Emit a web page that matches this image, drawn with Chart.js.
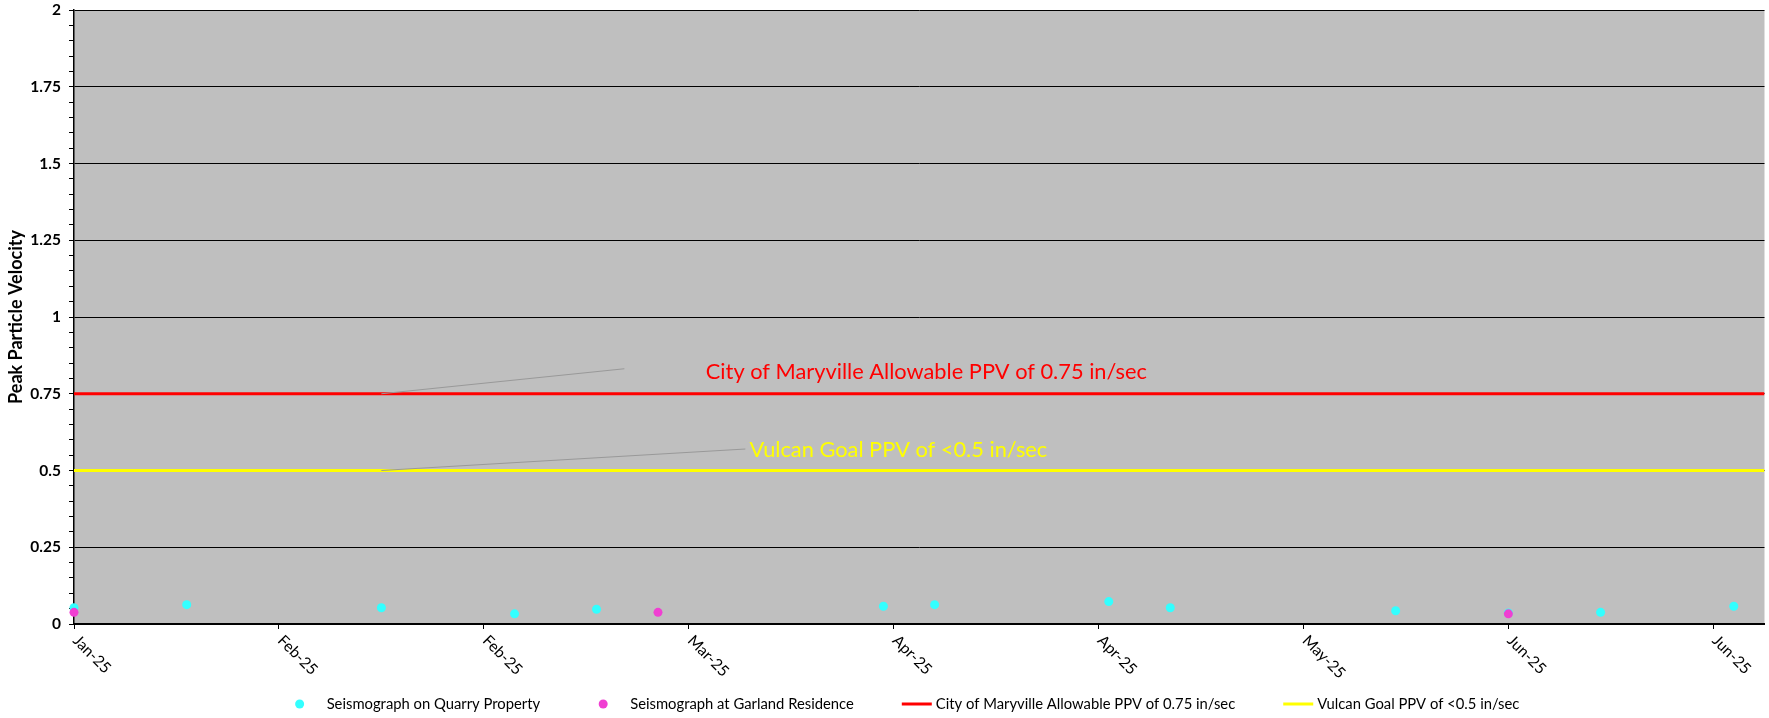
<!DOCTYPE html>
<html><head><meta charset="utf-8">
<script src="https://cdn.jsdelivr.net/npm/chart.js@4/dist/chart.umd.min.js"></script>
<style>html,body{margin:0;padding:0;background:#fff}#wrap{width:1769px;height:718px;position:relative}</style>
</head><body><div id="wrap"><canvas id="c"></canvas></div>
<script>
// ---- data ----
const axisStart = '2025-01-13';
const axisEnd = '2025-06-27';
const xTickLabels = ['Jan-25','Feb-25','Feb-25','Mar-25','Apr-25','Apr-25','May-25','Jun-25','Jun-25'];
const yTickLabels = ['0','0.25','0.5','0.75','1','1.25','1.5','1.75','2'];
const quarryDates = ['2025-01-13','2025-01-24','2025-02-12','2025-02-25','2025-03-05','2025-04-02','2025-04-07','2025-04-24','2025-04-30','2025-05-22','2025-06-02','2025-06-11','2025-06-24'];
const quarryPPV   = [0.053,0.063,0.053,0.033,0.048,0.058,0.063,0.073,0.053,0.043,0.036,0.038,0.058];
const garlandDates = ['2025-01-13','2025-03-11','2025-06-02'];
const garlandPPV   = [0.038,0.038,0.033];
const limitDates = [axisStart, axisEnd];
const maryvilleLimit = [0.75, 0.75];
const vulcanGoal = [0.5, 0.5];
const seriesNames = ['Seismograph on Quarry Property','Seismograph at Garland Residence','City of Maryville Allowable PPV of 0.75 in/sec','Vulcan Goal PPV of <0.5 in/sec'];
const labelAnchorDate = '2025-02-12';

const dayOf = d => (Date.parse(d) - Date.parse(axisStart)) / 864e5;
const pts = (dates, vals) => dates.map((d, i) => ({x: dayOf(d), y: vals[i]}));
const isMajor = v => { const k = v / 0.25; return Math.abs(k - Math.round(k)) < 1e-6; };

const FONT = 'Lato, "Open Sans", sans-serif';

const bgPlugin = {
  id: 'bg',
  beforeDraw(chart) {
    const {ctx, chartArea: a} = chart;
    ctx.save();
    ctx.fillStyle = '#fff'; ctx.fillRect(0, 0, chart.width, chart.height);
    ctx.fillStyle = '#BFBFBF'; ctx.fillRect(a.left, a.top, a.right - a.left, a.bottom - a.top);
    ctx.restore();
  }
};

const annotPlugin = {
  id: 'annot',
  afterDatasetsDraw(chart) {
    const {ctx} = chart;
    const xs = chart.scales.x, ys = chart.scales.y;
    const ax = xs.getPixelForValue(dayOf(labelAnchorDate));
    const items = [
      {text: seriesNames[2], color: '#FF0000', v: maryvilleLimit[0], lead: [243, -25], txt: [545, -22]},
      {text: seriesNames[3], color: '#FFFF00', v: vulcanGoal[0], lead: [364, -21.5], txt: [517, -20.5]}
    ];
    ctx.save();
    items.forEach(it => {
      const ay = ys.getPixelForValue(it.v);
      ctx.strokeStyle = '#999'; ctx.lineWidth = 1;
      ctx.beginPath(); ctx.moveTo(ax, ay); ctx.lineTo(ax + it.lead[0], ay + it.lead[1]); ctx.stroke();
      ctx.fillStyle = it.color; ctx.font = '21.8px ' + FONT;
      ctx.textAlign = 'center'; ctx.textBaseline = 'middle';
      ctx.fillText(it.text, ax + it.txt[0], ay + it.txt[1]);
    });
    ctx.restore();
  }
};

const xLabelPlugin = {
  id: 'xlabels',
  afterDraw(chart) {
    const {ctx} = chart; const xs = chart.scales.x; const bottom = chart.chartArea.bottom;
    ctx.save();
    ctx.fillStyle = '#000'; ctx.font = '15.5px ' + FONT;
    ctx.textAlign = 'left'; ctx.textBaseline = 'middle';
    xs.ticks.forEach((t, i) => {
      const px = xs.getPixelForValue(t.value);
      ctx.save();
      ctx.translate(px + 1.5, bottom + 14);
      ctx.rotate(Math.PI / 4);
      ctx.fillText(xTickLabels[i] || '', 0, 0);
      ctx.restore();
    });
    ctx.restore();
  }
};

const legendPlugin = {
  id: 'customLegend',
  afterDraw(chart) {
    const {ctx} = chart;
    const y = 704, spacing = 48;
    ctx.save();
    ctx.font = '14.8px ' + FONT; ctx.textBaseline = 'middle'; ctx.textAlign = 'left';
    const items = chart.data.datasets.map(ds => {
      const marker = !ds.showLine;
      const tw = ctx.measureText(ds.label).width;
      return {ds, marker, tw, w: (marker ? 42 : 34) + tw};
    });
    const total = items.reduce((s, it) => s + it.w, 0) + spacing * (items.length - 1);
    let x = 902 - total / 2;
    items.forEach(it => {
      if (it.marker) {
        ctx.fillStyle = it.ds.backgroundColor;
        ctx.beginPath(); ctx.arc(x + 15, y, 4.5, 0, Math.PI * 2); ctx.fill();
        ctx.fillStyle = '#000'; ctx.fillText(it.ds.label, x + 42, y);
      } else {
        ctx.strokeStyle = it.ds.borderColor; ctx.lineWidth = 3;
        ctx.beginPath(); ctx.moveTo(x, y); ctx.lineTo(x + 30, y); ctx.stroke();
        ctx.fillStyle = '#000'; ctx.fillText(it.ds.label, x + 34, y);
      }
      x += it.w + spacing;
    });
    ctx.restore();
  }
};

new Chart(document.getElementById('c'), {
  type: 'scatter',
  data: {
    datasets: [
      {label: seriesNames[0], data: pts(quarryDates, quarryPPV), backgroundColor: '#33FFFF', borderWidth: 0, pointRadius: 4.5, pointHoverRadius: 4.5, showLine: false, order: 2, clip: false},
      {label: seriesNames[1], data: pts(garlandDates, garlandPPV), backgroundColor: '#F03FD2', borderWidth: 0, pointRadius: 4.5, pointHoverRadius: 4.5, showLine: false, order: 1, clip: false},
      {label: seriesNames[2], data: pts(limitDates, maryvilleLimit), borderColor: '#FF0000', backgroundColor: '#FF0000', borderWidth: 3, pointRadius: 0, showLine: true, order: 3},
      {label: seriesNames[3], data: pts(limitDates, vulcanGoal), borderColor: '#FFFF00', backgroundColor: '#FFFF00', borderWidth: 3, pointRadius: 0, showLine: true, order: 4}
    ]
  },
  options: {
    responsive: true, maintainAspectRatio: false, animation: false, devicePixelRatio: 1,
    layout: {padding: {top: 10, right: 0, bottom: 0, left: 2}},
    plugins: {legend: {display: false}, tooltip: {enabled: false}},
    scales: {
      x: {
        type: 'linear', min: 0, max: dayOf(axisEnd),
        afterFit: s => { s.height = 94; s.paddingLeft = 0; s.paddingRight = 0; },
        ticks: {stepSize: 20, includeBounds: false, display: false},
        grid: {drawOnChartArea: false, color: '#000', tickColor: '#000', tickLength: 5, drawTicks: true},
        border: {color: '#000', width: 2}
      },
      y: {
        min: 0, max: 2,
        afterFit: s => { s.width = 72; s.paddingTop = 0; s.paddingBottom = 0; },
        ticks: {
          stepSize: 0.05, autoSkip: false, padding: 8, color: '#000',
          font: {family: FONT, weight: 'bold', size: 15.5},
          callback: v => { const r = Math.round(v / 0.25); return isMajor(v) ? yTickLabels[r] : ''; }
        },
        grid: {
          color: c => (c.tick && isMajor(c.tick.value)) ? '#000' : 'rgba(0,0,0,0)',
          lineWidth: 1, tickColor: '#000', tickLength: 5, drawTicks: true
        },
        border: {color: '#000', width: 1.5},
        title: {display: true, text: 'Peak Particle Velocity', color: '#000', font: {family: FONT, weight: 'bold', size: 18}, padding: {top: 3, bottom: 0}}
      }
    }
  },
  plugins: [bgPlugin, annotPlugin, xLabelPlugin, legendPlugin]
});
</script></body></html>
